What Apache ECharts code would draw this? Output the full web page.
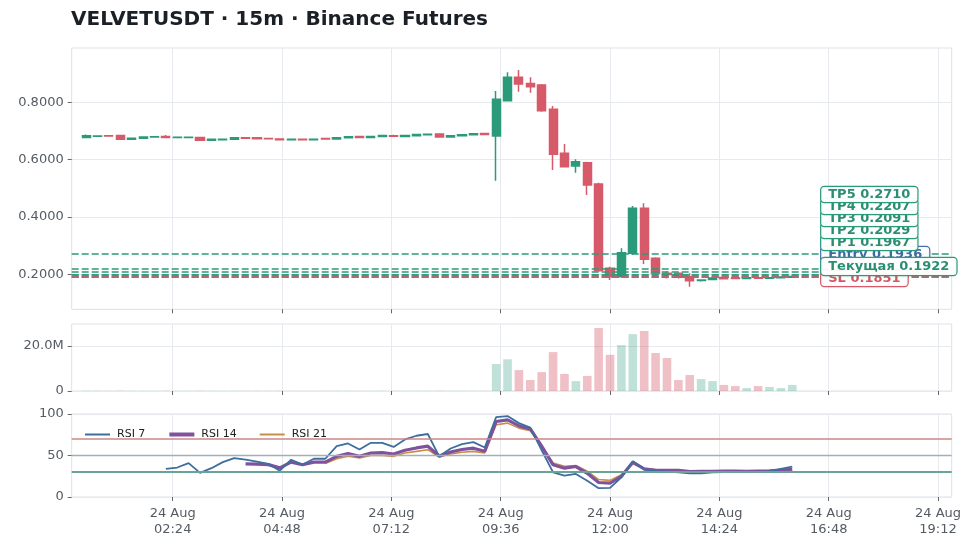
<!DOCTYPE html>
<html>
<head>
<meta charset="utf-8">
<script src="https://cdn.jsdelivr.net/npm/echarts@6/dist/echarts.min.js"></script>
<style>
html,body{margin:0;padding:0;background:#fff;}
#c{width:973px;height:548px;}
</style>
</head>
<body>
<div id="c"></div>
<script>
// ---- data ----
const times = ["00:30","00:45","01:00","01:15","01:30","01:45","02:00","02:15","02:30","02:45",
"03:00","03:15","03:30","03:45","04:00","04:15","04:30","04:45","05:00","05:15",
"05:30","05:45","06:00","06:15","06:30","06:45","07:00","07:15","07:30","07:45",
"08:00","08:15","08:30","08:45","09:00","09:15","09:30","09:45","10:00","10:15",
"10:30","10:45","11:00","11:15","11:30","11:45","12:00","12:15","12:30","12:45",
"13:00","13:15","13:30","13:45","14:00","14:15","14:30","14:45","15:00","15:15",
"15:30","15:45","16:00"];
const opens  = [0.6770,0.6815,0.6830,0.6845,0.6715,0.6745,0.6790,0.6810,0.6770,0.6775,
0.6775,0.6680,0.6690,0.6715,0.6765,0.6765,0.6740,0.6720,0.6690,0.6715,
0.6690,0.6740,0.6720,0.6760,0.6805,0.6775,0.6805,0.6835,0.6805,0.6835,
0.6865,0.6895,0.6790,0.6830,0.6870,0.6910,0.6824,0.8055,0.8870,0.8660,
0.8603,0.7755,0.6220,0.5778,0.5890,0.5150,0.2210,0.1917,0.2732,0.4302,
0.2558,0.2035,0.2035,0.1917,0.1780,0.1820,0.1885,0.1870,0.1850,0.1880,
0.1860,0.1880,0.1900];
const closes = [0.6830,0.6825,0.6820,0.6715,0.6745,0.6790,0.6800,0.6770,0.6780,0.6785,
0.6675,0.6715,0.6715,0.6760,0.6750,0.6730,0.6730,0.6690,0.6715,0.6690,
0.6715,0.6720,0.6760,0.6800,0.6775,0.6805,0.6840,0.6815,0.6840,0.6875,
0.6885,0.6790,0.6830,0.6870,0.6905,0.6880,0.8104,0.8870,0.8637,0.8544,
0.7706,0.6186,0.5753,0.5927,0.5115,0.2126,0.1917,0.2753,0.4302,0.2523,
0.2035,0.1995,0.1895,0.1777,0.1800,0.1870,0.1845,0.1855,0.1880,0.1860,
0.1880,0.1905,0.1922];
const lows   = [0.6760,0.6790,0.6815,0.6705,0.6705,0.6740,0.6785,0.6760,0.6765,0.6770,
0.6670,0.6672,0.6685,0.6710,0.6735,0.6725,0.6725,0.6685,0.6685,0.6685,
0.6680,0.6715,0.6715,0.6755,0.6770,0.6770,0.6800,0.6800,0.6800,0.6830,
0.6860,0.6785,0.6785,0.6825,0.6865,0.6875,0.5265,0.8030,0.8370,0.8334,
0.7670,0.5638,0.5732,0.5544,0.4766,0.2090,0.1800,0.1895,0.2673,0.2359,
0.1976,0.1850,0.1850,0.1568,0.1745,0.1810,0.1830,0.1840,0.1840,0.1845,
0.1850,0.1870,0.1890];
const highs  = [0.6880,0.6850,0.6835,0.6850,0.6750,0.6795,0.6805,0.6860,0.6785,0.6790,
0.6780,0.6720,0.6720,0.6765,0.6790,0.6770,0.6745,0.6725,0.6720,0.6720,
0.6720,0.6745,0.6765,0.6805,0.6810,0.6810,0.6845,0.6870,0.6845,0.6880,
0.6890,0.6900,0.6835,0.6875,0.6910,0.6915,0.8394,0.9046,0.9126,0.8870,
0.8637,0.7870,0.6545,0.6011,0.5927,0.5195,0.2265,0.2907,0.4382,0.4476,
0.2593,0.2110,0.2070,0.2035,0.1830,0.1880,0.1900,0.1885,0.1895,0.1890,
0.1890,0.1915,0.1935];
const volumes = [0.10,0.08,0.06,0.12,0.07,0.06,0.05,0.09,0.05,0.05,
0.10,0.06,0.05,0.07,0.06,0.06,0.05,0.08,0.05,0.05,
0.05,0.05,0.07,0.07,0.05,0.05,0.07,0.06,0.05,0.07,
0.06,0.09,0.06,0.06,0.07,0.06,12.0,14.1,9.3,4.9,
8.4,17.3,7.6,4.4,6.7,28.0,16.1,20.4,25.3,26.7,
16.9,14.7,4.9,7.1,5.3,4.4,2.7,2.2,1.3,2.2,
1.8,1.3,2.7]; // millions
const rsi7 = [null,null,null,null,null,null,null,33.9,35.5,40.8,
29.0,34.7,42.0,46.9,44.9,42.5,40.0,31.8,44.9,39.2,
46.1,46.1,61.2,64.5,57.2,65.3,65.3,60.3,69.4,73.8,
75.9,49.0,58.4,63.6,66.1,59.6,96.3,97.5,89.0,83.6,
56.3,29.7,25.7,27.8,19.6,10.6,11.0,23.6,43.2,33.0,
31.0,30.6,29.7,28.5,28.5,29.7,30.0,30.2,30.0,30.3,
30.8,33.9,36.7];
const rsi14 = [null,null,null,null,null,null,null,null,null,null,
null,null,null,null,40.0,39.6,39.0,35.1,42.0,38.8,
42.0,42.0,49.0,52.2,49.0,53.0,53.4,51.8,56.3,59.1,
61.2,49.4,54.2,57.2,58.8,55.1,91.0,93.0,85.7,82.0,
61.2,38.8,34.7,36.7,28.5,17.5,16.7,24.9,42.0,33.9,
32.2,32.0,32.0,30.6,30.8,31.0,31.2,31.2,31.0,31.3,
31.5,32.5,33.4];
const rsi21 = [null,null,null,null,null,null,null,null,null,null,
null,null,null,null,null,null,null,null,null,null,
null,40.5,46.0,49.0,47.0,50.0,50.0,49.0,53.0,55.0,
57.0,48.0,52.0,54.0,55.0,53.0,87.0,89.0,83.0,80.0,
61.0,41.0,37.0,38.0,31.0,21.0,20.0,27.0,40.0,34.0,
33.0,32.5,32.0,31.5,31.3,31.3,31.5,31.5,31.5,31.6,
31.7,31.9,32.0];
const tickLabels = ["02:24","04:48","07:12","09:36","12:00","14:24","16:48","19:12"];
const priceTicks = [0.2,0.4,0.6,0.8];
const volumeTicks = [0,20];
const rsiTicks = [0,50,100];
const rsiLevels = [70,50,30];
const levelNames  = ["TP5","TP4","TP3","TP2","TP1","Entry","Текущая","SL"];
const levelValues = [0.2710,0.2207,0.2091,0.2029,0.1967,0.1936,0.1922,0.1851];

// ---- styles ----
const GREEN = '#2b9a7a', RED = '#d65a69', BLUE = '#4a70ad';
const GREEN_T = '#2a8f71', RED_T = '#d05866';
const levelColors = ['g','g','g','g','g','b','g','r'];
const colorOf = k => k==='g'?GREEN:(k==='b'?BLUE:RED);
const textColorOf = k => k==='g'?GREEN_T:(k==='b'?'#3f6aa6':RED_T);
const FONT = 'DejaVu Sans';
const C7 = '#3c6e9e', C14 = '#80519c', C21 = '#c98e45';

const toMin = s => { const p = s.split(':'); return (+p[0])*60 + (+p[1]); };
const xs = times.map(toMin);
const tickVals = tickLabels.map(toMin);
const fmtTime = v => { const h = Math.floor(v/60), m = Math.round(v%60); return (h<10?'0':'')+h+':'+(m<10?'0':'')+m; };

const XMIN = 11, XMAX = 1170;
const gridL = 71.7, gridR = 21.3;

const candleData = xs.map((x,i)=>[x, opens[i], closes[i], lows[i], highs[i]]);
const volData = xs.map((x,i)=>({value:[x, volumes[i]*1e6], itemStyle:{color: closes[i]>=opens[i] ? 'rgba(43,154,122,0.30)' : 'rgba(214,90,105,0.38)'}}));
const mkLine = arr => xs.map((x,i)=>[x, arr[i]]).filter(d=>d[1]!==null);

function xAxis(idx, showLabel){
  return {
    type:'value', gridIndex:idx, min:XMIN, max:XMAX,
    axisLine:{show:false},
    axisTick:{show:true, inside:false, length:4, customValues:tickVals, lineStyle:{color:'#666', width:1}},
    axisLabel:{show:showLabel, customValues:tickVals, margin:9, color:'#555b63', fontSize:13, fontFamily:FONT, lineHeight:16,
      formatter: v => '24 Aug\n' + fmtTime(v)},
    splitLine:{show:true, lineStyle:{color:'#e6eaee', width:1}}
  };
}
function yAxis(idx, min, max, ticks, fmt){
  return {
    type:'value', gridIndex:idx, min:min, max:max,
    axisLine:{show:false},
    axisTick:{show:true, inside:false, length:4, customValues:ticks, lineStyle:{color:'#666', width:1}},
    axisLabel:{customValues:ticks, margin:8, color:'#555b63', fontSize:13, fontFamily:FONT, formatter:fmt},
    splitLine:{show:true, lineStyle:{color:'#e6eaee', width:1}}
  };
}

const option = {
  animation:false,
  backgroundColor:'#ffffff',
  textStyle:{fontFamily:FONT},
  title:{text:'VELVETUSDT · 15m · Binance Futures', left:71, top:10, padding:0,
    textStyle:{fontSize:20, fontWeight:'bold', color:'#1b2026', fontFamily:FONT}},
  grid:[
    {left:gridL, right:gridR, top:48, height:261.3, show:true, borderColor:'#dde2e7', borderWidth:1},
    {left:gridL, right:gridR, top:324, height:67, show:true, borderColor:'#dde2e7', borderWidth:1},
    {left:gridL, right:gridR, top:414, height:83, show:true, borderColor:'#dde2e7', borderWidth:1}
  ],
  xAxis:[xAxis(0,false), xAxis(1,false), xAxis(2,true)],
  yAxis:[
    yAxis(0, 0.0779, 0.9894, priceTicks, v=>v.toFixed(4)),
    yAxis(1, 0, 29.8e6, volumeTicks.map(v=>v*1e6), v=> v===0 ? '0' : (v/1e6).toFixed(1)+'M'),
    yAxis(2, 0, 100, rsiTicks, v=>String(v))
  ],
  legend:{
    left:79, top:424, itemWidth:25, itemHeight:12, itemGap:22,
    itemStyle:{color:'rgba(0,0,0,0)', borderWidth:0, borderColor:'rgba(0,0,0,0)'},
    textStyle:{fontSize:11, color:'#222', fontFamily:FONT, padding:[0,0,0,2]},
    data:[
      {name:'RSI 7', lineStyle:{color:C7, width:2}},
      {name:'RSI 14', lineStyle:{color:C14, width:4}},
      {name:'RSI 21', lineStyle:{color:C21, width:2}}
    ]
  },
  series:[
    {
      type:'candlestick', name:'price', xAxisIndex:0, yAxisIndex:0,
      data:candleData, encode:{x:0, y:[1,2,3,4]}, barWidth:8.6,
      itemStyle:{color:GREEN, color0:RED, borderColor:GREEN, borderColor0:RED, borderWidth:1.5},
      markLine:{
        silent:true, symbol:['none','none'], label:{show:false}, animation:false,
        data: levelValues.map((v,i)=>({yAxis:v, lineStyle:{color:colorOf(levelColors[i]), type:[7,3], width:1.6}}))
      },
      z:3
    },
    {
      type:'bar', name:'volume', xAxisIndex:1, yAxisIndex:1, data:volData, barWidth:8.6
    },
    {
      type:'line', name:'RSI 7', xAxisIndex:2, yAxisIndex:2, data:mkLine(rsi7),
      symbol:'none', lineStyle:{color:C7, width:1.8}, itemStyle:{color:C7}, z:4,
      markLine:{
        silent:true, symbol:['none','none'], label:{show:false},
        data:[
          {yAxis:rsiLevels[0], lineStyle:{color:'#cd8686', type:'solid', width:1.6}},
          {yAxis:rsiLevels[1], lineStyle:{color:'#9fb0b6', type:'solid', width:1.4}},
          {yAxis:rsiLevels[2], lineStyle:{color:'#6aa39a', type:'solid', width:2}}
        ]
      }
    },
    {
      type:'line', name:'RSI 14', xAxisIndex:2, yAxisIndex:2, data:mkLine(rsi14),
      symbol:'none', lineStyle:{color:C14, width:3.2}, itemStyle:{color:C14}, z:3
    },
    {
      type:'line', name:'RSI 21', xAxisIndex:2, yAxisIndex:2, data:mkLine(rsi21),
      symbol:'none', lineStyle:{color:C21, width:1.6}, itemStyle:{color:C21}, z:2
    }
  ]
};

const chart = echarts.init(document.getElementById('c'), null, {renderer:'canvas'});
chart.setOption(option);

// ---- level labels: stacked upward from the lowest so they do not overlap ----
const order = levelValues.map((v,i)=>i).sort((a,b)=>levelValues[a]-levelValues[b]);
const GAP = 12;
const ys = {};
let prev = null;
order.forEach(i=>{
  let y = chart.convertToPixel({gridIndex:0}, [xs[xs.length-1], levelValues[i]])[1];
  if (prev !== null && y > prev - GAP) y = prev - GAP;
  ys[i] = y; prev = y;
});
const lastX = chart.convertToPixel({gridIndex:0}, [xs[xs.length-1], levelValues[0]])[0];
const labelX = lastX + 29;
// draw order: SL, Entry, TP1..TP5, current on top
const drawOrder = [7,5,4,3,2,1,0,6];
const graphics = drawOrder.map((i,k)=>{
  const isCur = levelNames[i]==='Текущая';
  return {
    type:'text', z:100+k, x:labelX, y:ys[i],
    style:{
      text: levelNames[i] + ' ' + levelValues[i].toFixed(4),
      font:'bold 13px "DejaVu Sans"',
      fill:textColorOf(levelColors[i]),
      backgroundColor:'rgba(255,255,255,0.95)',
      borderColor:colorOf(levelColors[i]), borderWidth:1.2, borderRadius:3,
      padding: isCur ? [2,7,2,7] : [1,7,1,7],
      verticalAlign:'middle', align:'left'
    }
  };
});
chart.setOption({graphic:graphics});
</script>
</body>
</html>
